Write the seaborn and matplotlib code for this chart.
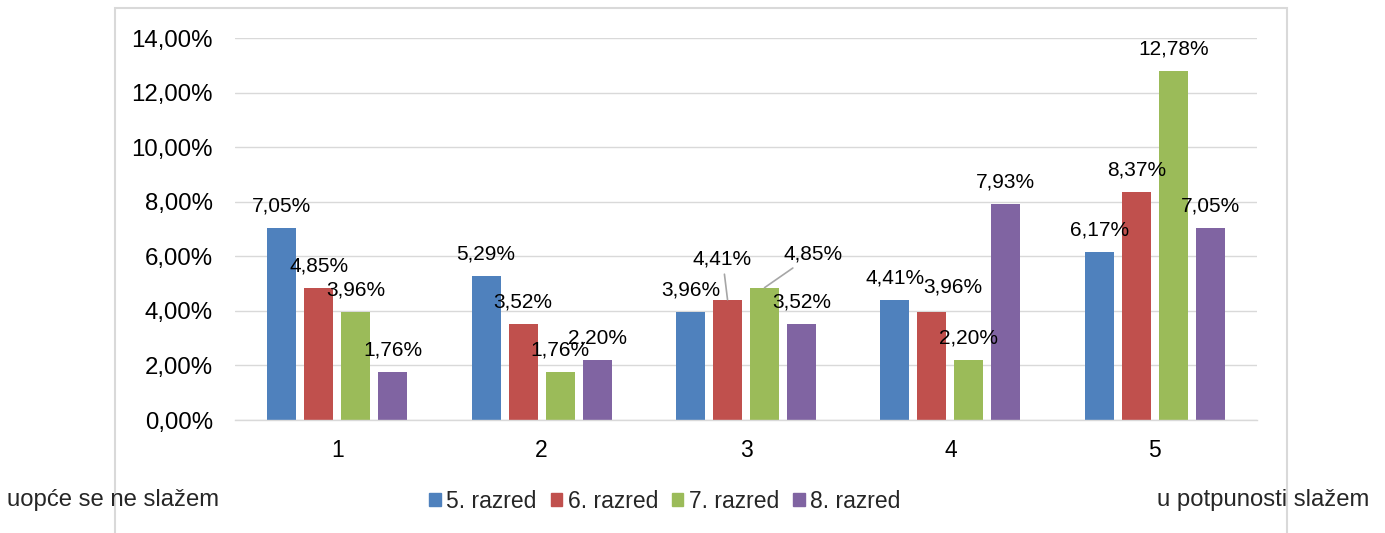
import pandas as pd
import numpy as np
import matplotlib.pyplot as plt
import matplotlib.patches as mpatches
import matplotlib.ticker as mticker
import seaborn as sns

# ── Data ────────────────────────────────────────────────
kategorije = ['1', '2', '3', '4', '5']
razredi = ['5. razred', '6. razred', '7. razred', '8. razred']
razred_5 = [7.05, 5.29, 3.96, 4.41, 6.17]
razred_6 = [4.85, 3.52, 4.41, 3.96, 8.37]
razred_7 = [3.96, 1.76, 4.85, 2.20, 12.78]
razred_8 = [1.76, 2.20, 3.52, 7.93, 7.05]
boje = ['#4F81BD', '#C0504D', '#9BBB59', '#8064A2']

df = pd.DataFrame({
    'kategorija': kategorije * 4,
    'razred': np.repeat(razredi, len(kategorije)),
    'postotak': razred_5 + razred_6 + razred_7 + razred_8,
})

# ── Style ───────────────────────────────────────────────
sns.set_style('white')
plt.rcParams['font.family'] = ['Liberation Sans', 'DejaVu Sans']

fig = plt.figure(figsize=(13.85, 5.33), dpi=100)
ax = fig.add_axes([0.1697, 0.212, 0.7379, 0.7167])

sns.barplot(data=df, x='kategorija', y='postotak', hue='razred',
            palette=boje, width=0.724, gap=0.216, ax=ax,
            errorbar=None, saturation=1, edgecolor='none')

ax.set_ylim(0, 14)
ax.set_yticks(np.arange(0, 14.01, 2))
ax.yaxis.set_major_formatter(mticker.FuncFormatter(
    lambda v, p: f'{v:.2f}'.replace('.', ',') + '%'))
ax.set_xlabel('')
ax.set_ylabel('')
ax.grid(axis='y', color='#d9d9d9', linewidth=1.0)
ax.set_axisbelow(True)
for s in ['top', 'right', 'left']:
    ax.spines[s].set_visible(False)
ax.spines['bottom'].set_color('#d9d9d9')
ax.spines['bottom'].set_linewidth(1.0)
ax.tick_params(axis='y', length=0, pad=16, labelsize=17.3, colors='black')
ax.tick_params(axis='x', length=0, pad=14, labelsize=16.5, colors='black')

# ── Data labels ─────────────────────────────────────────
# offsets in pixels (dx, dy) for labels that were moved by hand
posebno = {(1, 2): (-5, 41), (2, 2): (49, 34), (1, 3): (21, 25)}
vodilice = {(1, 2), (2, 2)}
for si, cont in enumerate(ax.containers):
    for ci, bar in enumerate(cont):
        h = bar.get_height()
        xc = bar.get_x() + bar.get_width() / 2
        dx, dy = posebno.get((si, ci), (0, 22))
        tekst = f'{h:.2f}'.replace('.', ',') + '%'
        kw = {}
        if (si, ci) in vodilice:
            kw['arrowprops'] = dict(arrowstyle='-', color='#a6a6a6', lw=1.2,
                                    shrinkA=2, shrinkB=0)
        ax.annotate(tekst, xy=(xc, h), xytext=(dx, dy),
                    textcoords='offset pixels', ha='center', va='center',
                    fontsize=15, color='black', **kw)

# ── Legend ──────────────────────────────────────────────
ax.legend_.remove()
ruke = [mpatches.Patch(color=c, label=r) for c, r in zip(boje, razredi)]
fig.legend(handles=ruke, loc='center', bbox_to_anchor=(665 / 1385, 0.06),
           ncol=4, frameon=False, fontsize=16.5, handlelength=0.5,
           handleheight=0.5, handletextpad=0.25, columnspacing=0.6)

fig.text(7 / 1385, 0.062, 'uopće se ne slažem', fontsize=17.2,
         ha='left', va='center')
fig.text(1157 / 1385, 0.062, 'u potpunosti slažem', fontsize=17.2,
         ha='left', va='center')

# outer chart frame
fig.patches.append(mpatches.Rectangle((115 / 1385, -0.05), 1172 / 1385, 1.035,
                                      transform=fig.transFigure, fill=False,
                                      edgecolor='#d9d9d9', linewidth=1.5))

plt.savefig('out.png', dpi=100)
